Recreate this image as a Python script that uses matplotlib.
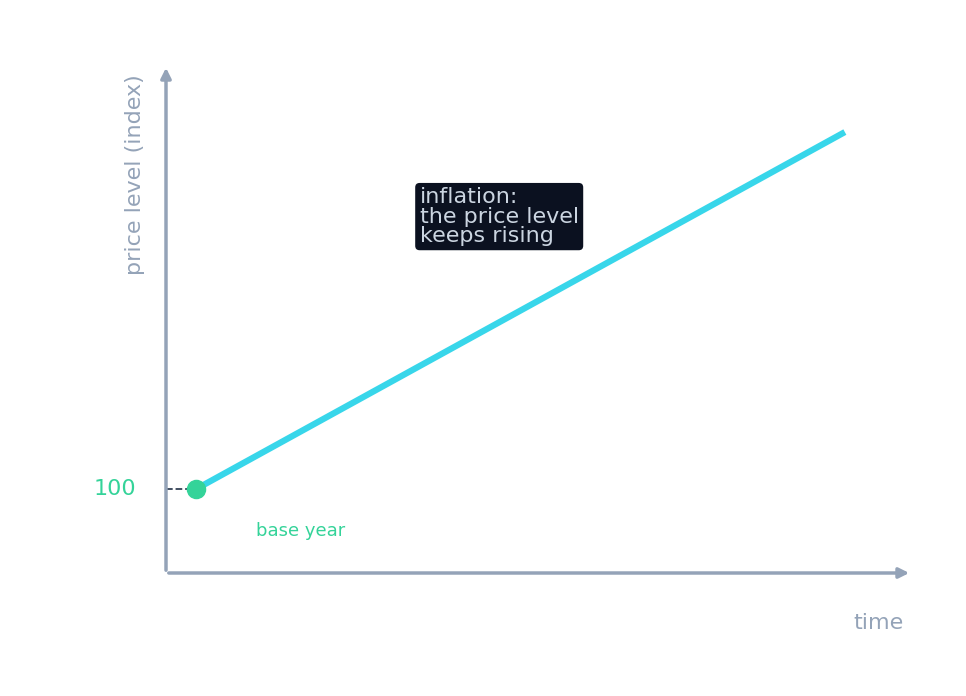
import matplotlib
matplotlib.use("Agg")
import matplotlib.pyplot as plt

time = [0.4, 9.1]
price = [100, 526]
base_label = "100"

W, H = 966, 696
fig = plt.figure(figsize=(W/100, H/100), dpi=100)
ax = fig.add_axes([166/W, (H-573)/H, (912-166)/W, (573-65)/H])
ax.set_xlim(0, 10)
ax.set_ylim(0, 606)
ax.axis("off")
grey = "#94a3b8"
green = "#34d399"
ax.annotate("", xy=(1.0, 0), xytext=(0, 0), xycoords="axes fraction",
            arrowprops=dict(arrowstyle="-|>", color=grey, lw=2.5, mutation_scale=15))
ax.annotate("", xy=(0, 1.0), xytext=(0, 0), xycoords="axes fraction",
            arrowprops=dict(arrowstyle="-|>", color=grey, lw=2.5, mutation_scale=15))
ax.plot(time, price, color="#38d6ea", lw=4.5, solid_capstyle="butt", zorder=3)
ax.plot([0, time[0]], [price[0], price[0]], ls="--", color="#334155", lw=1.3, zorder=2)
ax.scatter([time[0]], [price[0]], s=170, color=green, zorder=4)
ax.text(-0.4, price[0], base_label, color=green, fontsize=16, ha="right", va="center")
ax.text(1.8, price[0]-50, "base year", color=green, fontsize=13, ha="center", va="center")
ax.text(3.4, 460, "inflation:\nthe price level\nkeeps rising", color="#cbd5e1", fontsize=16,
        ha="left", va="top", linespacing=0.95,
        bbox=dict(boxstyle="round,pad=0.2", fc="#0b1120", ec="none"))
fig.text(904/W, 1-623/H, "time", color=grey, fontsize=16, ha="right", va="center")
fig.text(135/W, 1-175/H, "price level (index)", color=grey, fontsize=16, rotation=90,
         ha="center", va="center")
fig.savefig("out.png", dpi=100)
